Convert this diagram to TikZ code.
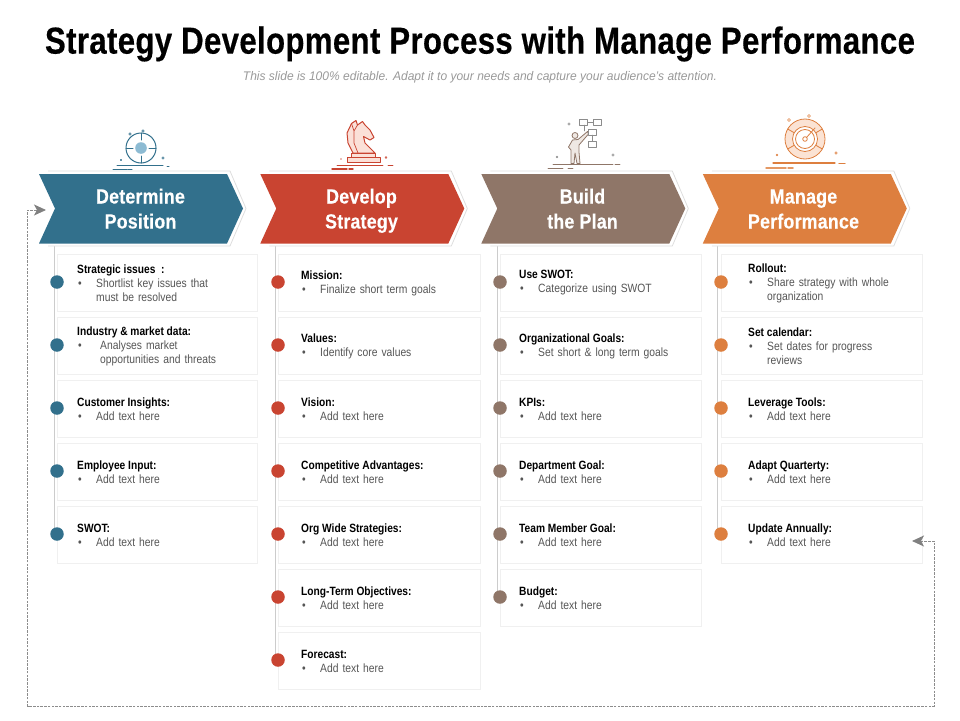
\documentclass[tikz,border=0pt]{standalone}
\usepackage{fontspec}
\usetikzlibrary{arrows.meta,backgrounds}
\setmainfont{Liberation Sans}
\newfontfamily\titlefont[FakeStretch=0.83,LetterSpace=1.0,FakeBold=0.4]{Liberation Sans Bold}
\newfontfamily\headfont[FakeStretch=0.87,LetterSpace=1.0,FakeBold=0.3]{Liberation Sans Bold}
\newfontfamily\itemhead[FakeStretch=0.85]{Liberation Sans Bold}
\newfontfamily\itembody[FakeStretch=0.86,WordSpace=1.4]{Liberation Sans}
\newfontfamily\subfont[FakeStretch=0.962]{Liberation Sans Italic}
\definecolor{cblue}{HTML}{32708C}
\definecolor{cred}{HTML}{C94431}
\definecolor{cbrown}{HTML}{8F7668}
\definecolor{corange}{HTML}{DD7F3F}
\definecolor{lblue}{HTML}{8DBBD3}
\definecolor{lred}{HTML}{FBE0D8}
\definecolor{lbrown}{HTML}{EFE8E3}
\definecolor{lorange}{HTML}{FBE3D4}
\definecolor{bodygrey}{HTML}{555555}
\tikzset{
  itembox/.style={draw=black!6,line width=0.7pt,fill=white,minimum height=57pt,inner sep=0pt},
  itemdot/.style={circle,minimum size=13.5pt,inner sep=0pt},
  itemtext/.style={anchor=west,align=left,inner sep=0pt,font=\fontsize{12}{14}\selectfont},
  headtext/.style={white,align=center,inner sep=0pt,font=\fontsize{20.5}{25}\headfont},
  rail/.style={draw=black!20,line width=0.8pt},
  halo/.style={draw=black!13,line width=0.8pt,fill=white},
  loopline/.style={draw=black!45,line width=0.9pt,dash pattern=on 2.5pt off 1.2pt},
  gicon/.style={line width=1pt,line join=round,line cap=round},
  tiny/.style={line width=0.6pt}
}
\newcommand\setcol[5]{\def\cid{#1}\def\bl{#2}\def\bw{#3}\def\tx{#4}\def\cc{#5}}
\newcommand\itemrow[3]{%
  \pgfmathsetmacro\yy{282+63*(#1-1)}
  \pgfmathsetmacro\bc{\bl+\bw/2}
  \node[itembox,minimum width=\bw pt] (box\cid-#1) at (\bc,\yy+0.6) {};
  \node[itemdot,fill=\cc] (dot\cid-#1) at (\bl,\yy) {};
  \node[itemtext] (txt\cid-#1) at (\tx,\yy+1) {\itemhead\color{black}#2\\\itembody\color{bodygrey}#3};
}
\newcommand\bul[1]{\makebox[19pt][l]{\hspace{1pt}•}#1}
\newcommand\bulw[1]{\makebox[23pt][l]{\hspace{1pt}•}#1}
\newcommand\contl[2]{\itembody\color{bodygrey}\hspace*{#1}#2}
\newcommand\chevron[2]{%
  \begin{scope}[xshift=#1 pt]
    \path[halo] (48,171)--(230,171)--(246,208.5)--(230,246)--(48,246);
    \fill[#2] (39,174)--(227,174)--(243,208.5)--(227,243.5)--(39,243.5)--(55,208.5)--cycle;
  \end{scope}}
\begin{document}
\begin{tikzpicture}[x=1pt,y=-1pt]
\useasboundingbox (0,0) rectangle (960,720);
\node[inner sep=0pt,font=\fontsize{37.5}{40}\titlefont] (title) at (480,44) {Strategy Development Process with Manage Performance};
\node[inner sep=0pt,text=black!40,font=\fontsize{12.5}{15}\subfont] (subtitle) at (480,77) {This slide is 100\% editable. Adapt it to your needs and capture your audience’s attention.};

% rails start points
\coordinate (r1) at (54.5,246);
\coordinate (r2) at (275,246);
\coordinate (r3) at (497,246);
\coordinate (r4) at (717,246);

% headers
\chevron{0}{cblue}
\chevron{221.3}{cred}
\chevron{442.3}{cbrown}
\chevron{663.8}{corange}
\node[headtext] (h1) at (140.5,211) {Determine\strut\\Position\strut};
\node[headtext] (h2) at (361.5,211) {Develop\strut\\Strategy\strut};
\node[headtext] (h3) at (582.5,211) {Build\strut\\the Plan\strut};
\node[headtext] (h4) at (803.5,211) {Manage\strut\\Performance\strut};

% column 1
\setcol{a}{57}{200}{77}{cblue}
\itemrow{1}{Strategic issues\ \ :}{\bul{Shortlist key issues that}\\\contl{19pt}{must be resolved}}
\itemrow{2}{Industry \& market data:}{\bulw{Analyses market}\\\contl{23pt}{opportunities and threats}}
\itemrow{3}{Customer Insights:}{\bul{Add text here}}
\itemrow{4}{Employee Input:}{\bul{Add text here}}
\itemrow{5}{SWOT:}{\bul{Add text here}}
% column 2
\setcol{b}{278}{202}{301}{cred}
\itemrow{1}{Mission:}{\bul{Finalize short term goals}}
\itemrow{2}{Values:}{\bul{Identify core values}}
\itemrow{3}{Vision:}{\bul{Add text here}}
\itemrow{4}{Competitive Advantages:}{\bul{Add text here}}
\itemrow{5}{Org Wide Strategies:}{\bul{Add text here}}
\itemrow{6}{Long-Term Objectives:}{\bul{Add text here}}
\itemrow{7}{Forecast:}{\bul{Add text here}}
% column 3
\setcol{c}{500}{201}{519}{cbrown}
\itemrow{1}{Use SWOT:}{\bul{Categorize using SWOT}}
\itemrow{2}{Organizational Goals:}{\bul{Set short \& long term goals}}
\itemrow{3}{KPIs:}{\bul{Add text here}}
\itemrow{4}{Department Goal:}{\bul{Add text here}}
\itemrow{5}{Team Member Goal:}{\bul{Add text here}}
\itemrow{6}{Budget:}{\bul{Add text here}}
% column 4
\setcol{d}{721}{201}{748}{corange}
\itemrow{1}{Rollout:}{\bul{Share strategy with whole}\\\contl{19pt}{organization}}
\itemrow{2}{Set calendar:}{\bul{Set dates for progress}\\\contl{19pt}{reviews}}
\itemrow{3}{Leverage Tools:}{\bul{Add text here}}
\itemrow{4}{Adapt Quarterty:}{\bul{Add text here}}
\itemrow{5}{Update Annually:}{\bul{Add text here}}

% rails
\begin{pgfonlayer}{background}
\draw[rail] (r1) -- (r1 |- dota-5.center);
\draw[rail] (r2) -- (r2 |- dotb-7.center);
\draw[rail] (r3) -- (r3 |- dotc-6.center);
\draw[rail] (r4) -- (r4 |- dotd-5.center);
\end{pgfonlayer}

% loop connector
\coordinate (loopin) at (46,210);
\coordinate (loopout) at (912,541);
\draw[loopline,{Stealth[inset=3pt,length=12pt,width=11pt,black!50]}-{Stealth[inset=3pt,length=12pt,width=11pt,black!50]}]
  (loopout) -- (934,541) -- (934,706) -- (27.5,706) -- (27.5,210) -- (loopin);

% icon: target
\begin{scope}[gicon,draw=cblue]
\fill[lblue] (141,148) circle (5.8);
\draw (141,148) circle (15);
\draw (126,148)--(133,148) (149,148)--(156,148) (141,133)--(141,140) (141,156)--(141,163);
\draw (117,165.7)--(163,165.7) (113,169.5)--(127,169.5) (128,169.5)--(132,169.5) (167,166)--(169,166);
\draw[tiny] (130,134) circle (1.3) (143,131) circle (1.3) (163,158) circle (1.2) (121,160) circle (0.6);
\end{scope}
% icon: knight
\begin{scope}[gicon,draw=cred]
\filldraw[fill=lred] (353,153)--(348,143)--(347,133)--(351.5,123.5)--(356,120.5)--(357.5,125)--(362.5,121.5)--(365,125)--(370,130)--(374,137.5)--(370,140)--(363.5,136.5)--(365,143)--(375,153)--cycle;
\draw[line width=.7pt] (351.5,123.5)--(354,131)--(354,143)--(358,153) (357.5,125)--(354,131);
\filldraw[fill=lred] (351,153)rectangle(375,157);
\filldraw[fill=lred] (347,157)rectangle(380,162);
\draw[line width=.8pt] (337,165)--(383,165) (388,165)--(393,165);
\draw[line width=1.4pt] (332,169)--(347,169) (349,169)--(353,169);
\draw[tiny] (386,157.5) circle (1) (341,159) circle (.5);
\end{scope}
% icon: person with flowchart
\begin{scope}[gicon,draw=cbrown,line width=.8pt]
\filldraw[fill=lbrown] (575,135.5) circle (3);
\filldraw[fill=lbrown] (568.5,147)--(572.5,140)--(578,139.5)--(587.5,131.5)--(588.5,134)--(579,145)--(579,152)--(580,163.5)--(577,163.5)--(575,153)--(574,163.5)--(571,163.5)--(571,150)--cycle;
\foreach \bx/\by in {579/119,593/119,588/129,588/141}
  \draw[black!45,line width=.6pt] (\bx,\by) rectangle ++(8.5,6);
\draw[black!45,line width=.5pt] (587.5,122)--(593,122) (592,135)--(592,141) (584,125)--(584,131);
\draw[tiny,black!45] (569,124) circle (1.2) (557,157) circle (1) (613,155) circle (1.2);
\draw (553,164)--(613,164) (615,164)--(620,164) (548,168.5)--(563,168.5) (568,168.5)--(573,168.5);
\end{scope}
% icon: gauge
\begin{scope}[gicon,draw=corange,line width=.8pt]
\filldraw[fill=lorange] (805,139) circle (20);
\filldraw[fill=white] (805,139) circle (12.5);
\draw (805,139) circle (9.5);
\foreach \a in {30,150,210,330} \draw (805,139)++(\a:12.5)--++(\a:7.5);
\filldraw[fill=white] (805,139) circle (2.3);
\draw (806.5,137.5)--(815,128);
\draw[line width=1.1pt] (773,163)--(835,163) (839,163.5)--(845,163.5);
\draw[line width=1.5pt,draw=corange!80] (766,168)--(786,168) (788,168)--(793,168);
\draw[tiny] (789,120) circle (1.5) (809,116) circle (1.5) (777,155) circle (1) (836,153) circle (1.3);
\end{scope}
\end{tikzpicture}
\end{document}
